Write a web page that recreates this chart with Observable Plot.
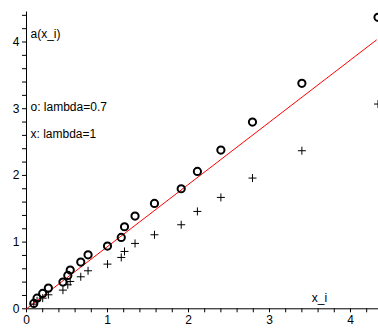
<!DOCTYPE html>
<html><head><meta charset="utf-8">
<script src="https://cdn.jsdelivr.net/npm/d3@7"></script>
<script src="https://cdn.jsdelivr.net/npm/@observablehq/plot@0.6"></script>
<style>body{margin:0;background:#fff;overflow:hidden}#chart svg{display:block}</style>
</head><body><div id="chart"></div>
<script>
// x_i values
const xValues = [0.09, 0.13, 0.20, 0.27, 0.45, 0.51, 0.54, 0.67, 0.76, 1.00, 1.17, 1.21, 1.34, 1.58, 1.91, 2.11, 2.40, 2.79, 3.40, 4.34];
// a(x_i) with lambda = 0.7 (o)
const aLambda07 = [0.08, 0.16, 0.23, 0.31, 0.40, 0.50, 0.58, 0.70, 0.81, 0.94, 1.07, 1.23, 1.39, 1.58, 1.80, 2.06, 2.38, 2.80, 3.38, 4.37];
// a(x_i) with lambda = 1 (x)
const aLambda1 = [0.07, 0.12, 0.16, 0.21, 0.28, 0.36, 0.41, 0.48, 0.57, 0.67, 0.77, 0.86, 0.98, 1.11, 1.26, 1.46, 1.67, 1.96, 2.37, 3.07];
// red reference line
const lineX = [0, 4.32];
const lineY = [0, 4.03];
// ticks
const xTickLabels = [0, 1, 2, 3, 4];
const yTickLabels = [0, 1, 2, 3, 4];
const xMinorTicks = [0.2,0.4,0.6,0.8,1.2,1.4,1.6,1.8,2.2,2.4,2.6,2.8,3.2,3.4,3.6,3.8,4.2];
const yMinorTicks = [0.2,0.4,0.6,0.8,1.2,1.4,1.6,1.8,2.2,2.4,2.6,2.8,3.2,3.4,3.6,3.8,4.2,4.4];
// texts
const yLabel = "a(x_i)";
const xLabel = "x_i";
const legendO = "o: lambda=0.7";
const legendX = "x: lambda=1";

const ptsO = xValues.map((x, i) => ({x, y: aLambda07[i]}));
const ptsX = xValues.map((x, i) => ({x, y: aLambda1[i]}));
const line = lineX.map((x, i) => ({x, y: lineY[i]}));

const font = "Liberation Sans, Arial, Helvetica, sans-serif";
const chart = Plot.plot({
  width: 378,
  height: 329,
  marginLeft: 26,
  marginRight: 0,
  marginTop: 11.5,
  marginBottom: 20.7,
  style: {fontFamily: font, fontSize: "12px", color: "black", background: "white"},
  x: {domain: [0, 4.346]},
  y: {domain: [0, 4.45]},
  marks: [
    Plot.axisX(xTickLabels, {tickSize: 4, tickPadding: 3, tickFormat: "d", label: null, fontSize: 12}),
    Plot.axisX(xMinorTicks, {tickSize: 4, tickFormat: () => "", label: null}),
    Plot.axisY(yTickLabels, {tickSize: 4, tickPadding: 3, tickFormat: "d", label: null, fontSize: 12}),
    Plot.axisY(yMinorTicks, {tickSize: 4, tickFormat: () => "", label: null}),
    Plot.ruleY([0], {stroke: "black", strokeWidth: 1}),
    Plot.ruleX([0], {stroke: "black", strokeWidth: 1}),
    Plot.line(line, {x: "x", y: "y", stroke: "#ff0000", strokeWidth: 1}),
    Plot.dot(ptsX, {x: "x", y: "y", symbol: "plus", r: 2.7, stroke: "black", strokeWidth: 1}),
    Plot.dot(ptsO, {x: "x", y: "y", symbol: "circle", r: 3.6, fill: "none", stroke: "black", strokeWidth: 2}),
    Plot.text([yLabel], {frameAnchor: "top-left", textAnchor: "start", lineAnchor: "middle", dx: 4, dy: 22.5, fontSize: 12}),
    Plot.text([legendO], {frameAnchor: "top-left", textAnchor: "start", lineAnchor: "middle", dx: 4, dy: 95, fontSize: 12}),
    Plot.text([legendX], {frameAnchor: "top-left", textAnchor: "start", lineAnchor: "middle", dx: 4, dy: 122, fontSize: 12}),
    Plot.text([xLabel], {frameAnchor: "bottom", textAnchor: "middle", lineAnchor: "middle", dx: 117, dy: -11, fontSize: 12})
  ]
});
document.getElementById("chart").appendChild(chart);
</script>
</body></html>
